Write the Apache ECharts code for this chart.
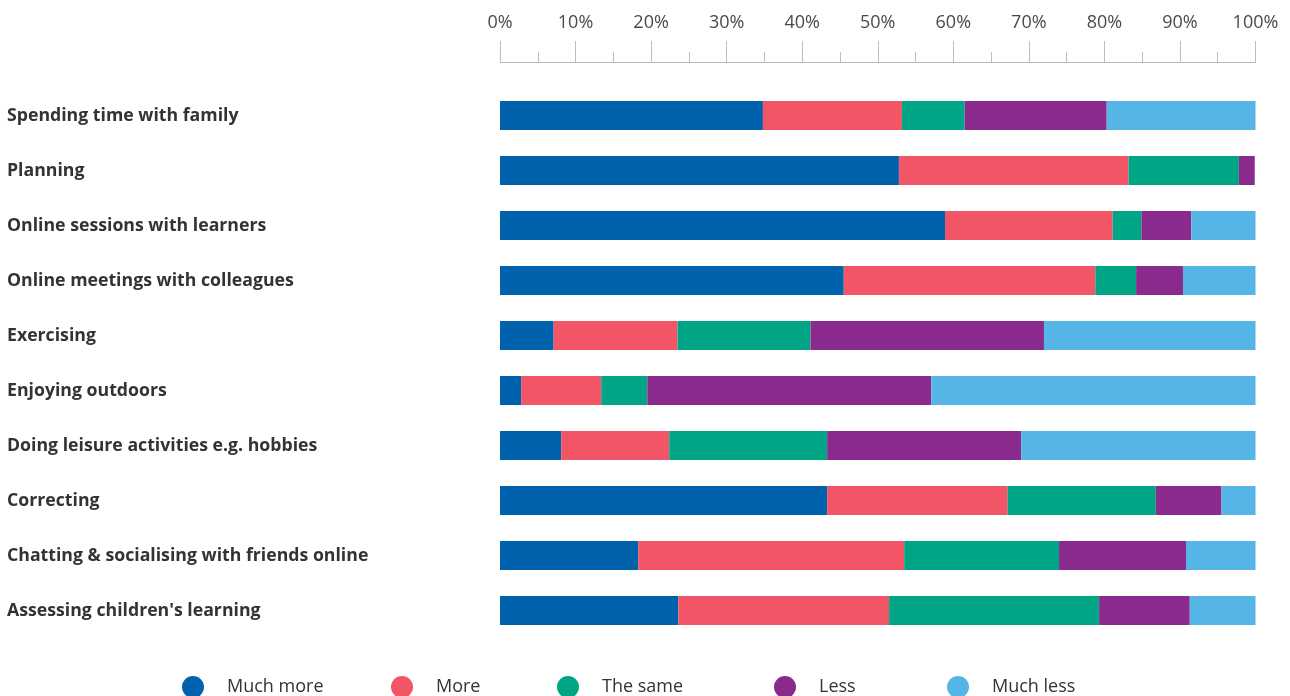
<!DOCTYPE html>
<html>
<head>
<meta charset="utf-8">
<style>
  html, body { margin: 0; padding: 0; background: #ffffff; }
  #chart { width: 1290px; height: 696px; }
</style>
<script src="https://cdn.jsdelivr.net/npm/echarts@6/dist/echarts.min.js"></script>
</head>
<body>
<div id="chart"></div>
<script>
// Activities, top to bottom
const categories = [
  'Spending time with family',
  'Planning',
  'Online sessions with learners',
  'Online meetings with colleagues',
  'Exercising',
  'Enjoying outdoors',
  'Doing leisure activities e.g. hobbies',
  'Correcting',
  'Chatting & socialising with friends online',
  "Assessing children's learning"
];

// Share of respondents (%) per answer
const muchMore = [34.8, 52.8, 58.9, 45.5, 7.1, 2.8, 8.1, 43.3, 18.3, 23.6];
const more     = [18.4, 30.4, 22.2, 33.3, 16.4, 10.6, 14.3, 23.9, 35.2, 27.9];
const same     = [8.3, 14.6, 3.8, 5.4, 17.6, 6.1, 20.9, 19.6, 20.5, 27.8];
const less     = [18.8, 2.1, 6.6, 6.2, 30.9, 37.6, 25.7, 8.7, 16.8, 12.0];
const muchLess = [19.7, 0, 8.5, 9.6, 28.0, 42.9, 31.0, 4.5, 9.2, 8.7];

const seriesNames = ['Much more', 'More', 'The same', 'Less', 'Much less'];
const seriesData = [muchMore, more, same, less, muchLess];
const colors = ['#0061ad', '#f15566', '#00a585', '#8a2a8d', '#56b5e7'];

const tickValues = [0, 10, 20, 30, 40, 50, 60, 70, 80, 90, 100];

const chart = echarts.init(document.getElementById('chart'));

// one legend per answer so each item sits at its own spot
const legendLeft = [182, 391, 557, 774, 947];
const legends = seriesNames.map((name, i) => ({
  data: [name],
  left: legendLeft[i],
  top: 676,
  padding: 0,
  icon: 'circle',
  itemWidth: 22,
  itemHeight: 22,
  selectedMode: false,
  textStyle: {
    fontFamily: 'Open Sans',
    fontSize: 18,
    color: '#333333',
    padding: [4, 0, 0, 18]
  }
}));

chart.setOption({
  animation: false,
  color: colors,
  legend: legends,
  grid: {
    left: 500,
    right: 34.5,
    top: 88,
    height: 550
  },
  xAxis: {
    type: 'value',
    position: 'top',
    offset: 26,
    min: 0,
    max: 100,
    interval: 10,
    axisLine: { show: true, lineStyle: { color: '#bdbdbd', width: 1 } },
    axisTick: { show: true, length: 21, lineStyle: { color: '#bdbdbd' } },
    minorTick: { show: true, splitNumber: 2, length: 10, lineStyle: { color: '#bdbdbd' } },
    splitLine: { show: false },
    axisLabel: {
      margin: 30,
      fontFamily: 'Open Sans',
      fontSize: 18,
      color: '#4a4a4a',
      formatter: v => tickValues.includes(v) ? v + '%' : ''
    }
  },
  yAxis: {
    type: 'category',
    data: categories,
    inverse: true,
    axisLine: { show: false },
    axisTick: { show: false },
    axisLabel: {
      align: 'left',
      margin: 493,
      fontFamily: 'Open Sans',
      fontWeight: 'bold',
      fontSize: 17.7,
      color: '#333333',
      padding: [4, 0, 0, 0]
    }
  },
  series: seriesNames.map((name, i) => ({
    name: name,
    type: 'bar',
    stack: 'total',
    barWidth: 29,
    data: seriesData[i],
    itemStyle: { color: colors[i] }
  }))
});
</script>
</body>
</html>
